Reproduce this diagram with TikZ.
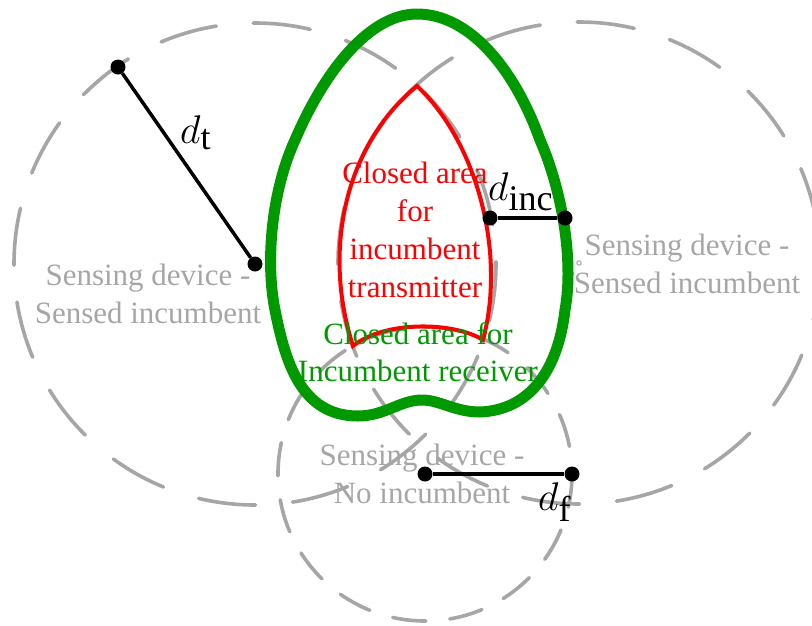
\documentclass[tikz,border=0pt]{standalone}
\usepackage{fix-cm}
\usepackage{fontspec}
\setmainfont{Liberation Serif}
\usepackage{tikz}
\usetikzlibrary{positioning}
\definecolor{sensgray}{RGB}{166,166,166}
\definecolor{rxgreen}{RGB}{0,153,0}
\DeclareMathSizes{40}{40}{36}{28}
\tikzset{
  sens/.style 2 args={draw=sensgray, line width=3.6pt, line cap=round, dash pattern=on #1 off #2},
  rx/.style={draw=rxgreen, line width=11pt, line join=round},
  tx/.style={draw=red, line width=4pt, line join=miter},
  meas/.style={draw=black, line width=3.5pt},
  dot/.style={circle, fill=black, inner sep=0pt, minimum size=15pt},
  txt/.style={align=center, inner sep=0pt, anchor=north, font=\fontsize{31}{37.8}\selectfont},
  lbl/.style={inner sep=0pt, anchor=base west, font=\fontsize{40}{48}\selectfont}
}
\begin{document}
\begin{tikzpicture}[x=1pt, y=-1pt]
\clip (0,0) rectangle (812,625);
% sensing devices
\coordinate (lc) at (255,264);
\coordinate (rc) at (579,263);
\coordinate (bc) at (425,474);
\draw[sens={57.5pt}{37pt}] (lc) circle (241);
\draw[sens={57.5pt}{37pt}] (rc) circle (241);
\draw[sens={33.5pt}{24pt}] (bc) circle (147);
\draw[sensgray, line width=1pt] (rc) circle (2.2);
% closed areas
\draw[rx] (417,14) .. controls (470,14) and (515,70) .. (540,140)
  .. controls (562,190) and (574,260) .. (565,310)
  .. controls (558,370) and (530,410) .. (480,412)
  .. controls (455,412) and (440,400) .. (422,400)
  .. controls (400,400) and (385,416) .. (358,416)
  .. controls (300,416) and (285,360) .. (275,310)
  .. controls (265,260) and (272,190) .. (295,140)
  .. controls (325,70) and (370,14) .. (417,14) -- cycle;
\draw[tx] (417,86) .. controls (475,140) and (507,250) .. (483,340)
  .. controls (455,322) and (385,320) .. (353,346)
  .. controls (322,250) and (345,145) .. (417,86) -- cycle;
% texts
\node[txt, text=sensgray] (lsens) at (148,264) {Sensing device -\\Sensed incumbent};
\node[txt, text=sensgray] (rsens) at (687,234) {Sensing device -\\Sensed incumbent};
\node[txt, text=sensgray] (bsens) at (422,444) {Sensing device -\\No incumbent};
\node[txt, text=red] (txarea) at (415,162) {Closed area\\for\\incumbent\\transmitter};
\node[txt, text=rxgreen] (rxarea) at (418,322) {Closed area for\\Incumbent receiver};
% distances
\node[dot] (tend) at (118,67) {};
\node[dot] (tctr) at (lc) {};
\draw[meas] (tend) -- (tctr);
\node[dot] (inca) at (490,218) {};
\node[dot] (incb) at (565,218) {};
\draw[meas] (inca) -- (incb);
\node[dot] (fctr) at (bc) {};
\node[dot] (fend) at (572,474) {};
\draw[meas] (fctr) -- (fend);
\node[lbl] (dtl) at (180,143) {$d_{\mathrm{t}}$};
\node[lbl] (dincl) at (488,200) {$d_{\mathrm{inc}}$};
\node[lbl] (dfl) at (538,510) {$d_{\mathrm{f}}$};
\end{tikzpicture}
\end{document}
